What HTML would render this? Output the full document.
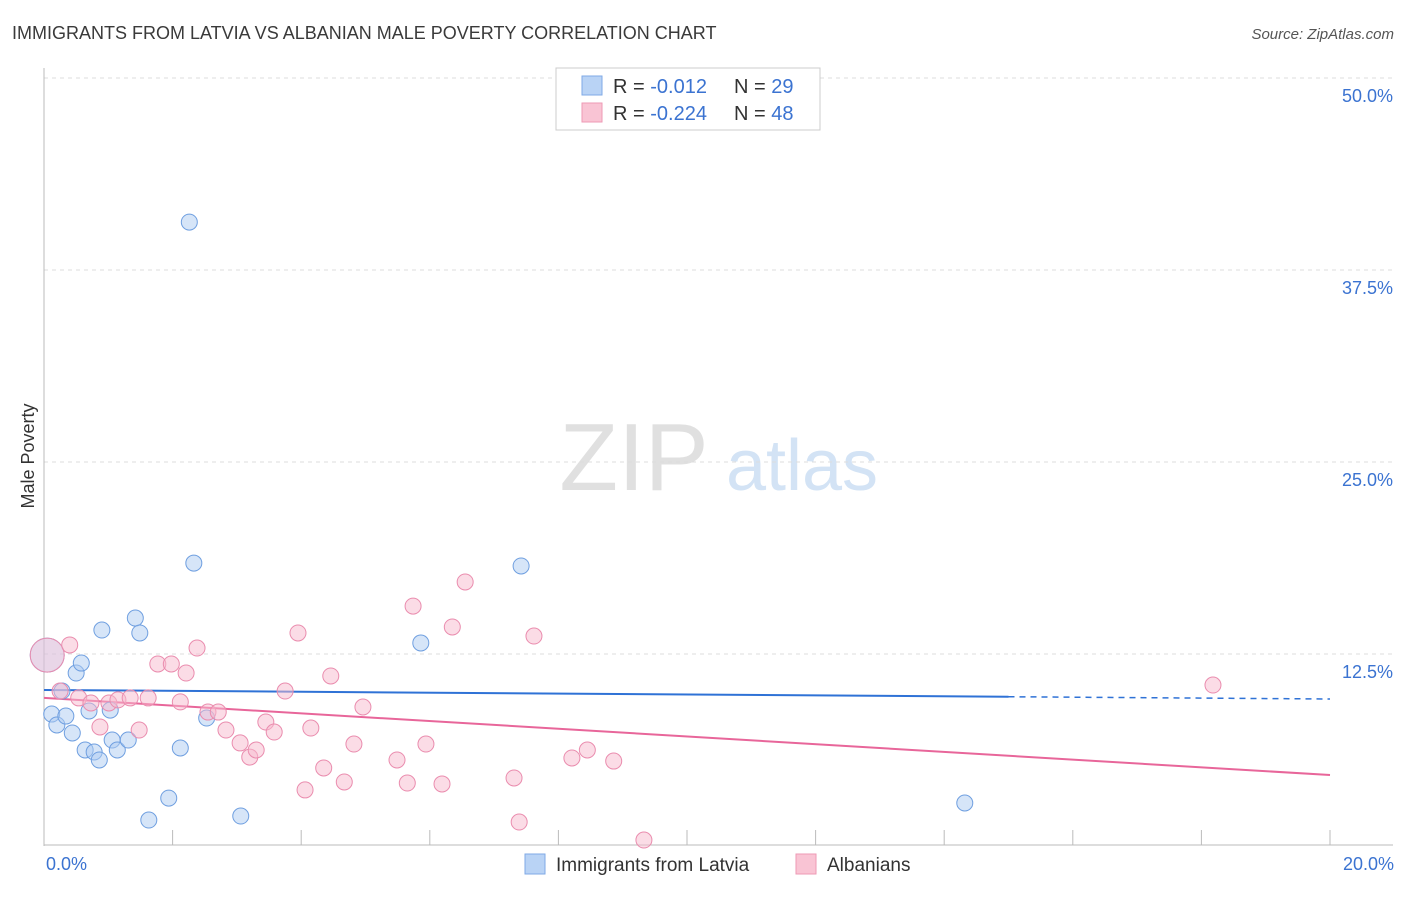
<!DOCTYPE html>
<html><head><meta charset="utf-8"><style>
body{margin:0;background:#fff;font-family:"Liberation Sans",sans-serif;}
svg text{font-family:"Liberation Sans",sans-serif;}
</style></head><body>
<svg id="chart" width="1406" height="892" xmlns="http://www.w3.org/2000/svg">
<text x="12" y="39" font-size="18" fill="#3a3a3a">IMMIGRANTS FROM LATVIA VS ALBANIAN MALE POVERTY CORRELATION CHART</text>
<text x="1394" y="39" font-size="15" fill="#555" font-style="italic" text-anchor="end">Source: ZipAtlas.com</text>
<text x="34" y="456" font-size="18" fill="#333" text-anchor="middle" transform="rotate(-90 34 456)">Male Poverty</text>
<g>
<text x="634" y="490" font-size="96" fill="#e0e0e0" font-family="Liberation Serif" text-anchor="middle">ZIP</text>
<text x="802" y="490" font-size="72" fill="#d3e3f5" text-anchor="middle">atlas</text>
</g>
<g id="grid"></g><g id="axes"></g><g id="lines"></g><g id="pts"></g>
<g>
<rect x="556" y="68" width="264" height="62" fill="#fff" stroke="#ccc"/>
<rect x="582" y="76" width="20" height="19" fill="#b9d3f5" stroke="#7fa9e6"/>
<rect x="582" y="103" width="20" height="19" fill="#f9c4d4" stroke="#ee9ab5"/>
<text x="613" y="93" font-size="20" fill="#333">R = <tspan fill="#3b73d1">-0.012</tspan></text>
<text x="734" y="93" font-size="20" fill="#333">N = <tspan fill="#3b73d1">29</tspan></text>
<text x="613" y="120" font-size="20" fill="#333">R = <tspan fill="#3b73d1">-0.224</tspan></text>
<text x="734" y="120" font-size="20" fill="#333">N = <tspan fill="#3b73d1">48</tspan></text>
</g>
<g>
<rect x="525" y="854" width="20" height="20" fill="#b9d3f5" stroke="#7fa9e6"/>
<text x="556" y="871" font-size="19" fill="#333">Immigrants from Latvia</text>
<rect x="796" y="854" width="20" height="20" fill="#f9c4d4" stroke="#ee9ab5"/>
<text x="827" y="871" font-size="19" fill="#333">Albanians</text>
</g>
</svg>
<script>
const blueX=[0.05,0.12,0.20,0.34,0.28,0.44,0.50,0.58,0.64,0.70,0.78,0.86,0.90,1.03,1.06,1.14,1.31,1.42,1.49,1.63,1.94,2.12,2.26,2.33,2.53,3.06,5.86,7.42,14.32];
const blueY=[12.43,8.59,7.88,8.46,10.09,7.36,11.26,11.91,6.25,8.79,6.12,5.60,14.06,8.85,6.90,6.25,6.90,14.84,13.87,1.69,3.12,6.38,40.62,18.42,8.33,1.95,13.22,18.23,2.80];
const pinkX=[0.05,0.40,0.25,0.54,0.73,0.87,1.01,1.15,1.34,1.48,1.62,1.77,1.98,2.12,2.21,2.38,2.55,2.71,2.83,3.05,3.20,3.30,3.45,3.58,3.75,3.95,4.06,4.15,4.35,4.46,4.67,4.82,4.96,5.49,5.65,5.74,5.94,6.19,6.35,6.55,7.31,7.39,7.62,8.21,8.45,8.86,9.33,18.18];
const pinkY=[12.43,13.09,10.09,9.64,9.31,7.75,9.31,9.51,9.64,7.55,9.64,11.85,11.85,9.38,11.26,12.89,8.72,8.72,7.55,6.71,5.79,6.25,8.07,7.42,10.09,13.87,3.65,7.68,5.08,11.07,4.17,6.64,9.05,5.60,4.10,15.62,6.64,4.04,14.26,17.19,4.43,1.56,13.67,5.73,6.25,5.53,0.39,10.48];
const blueTrend=[10.16,9.57];
const pinkTrend=[9.64,4.62];
const yTicks=[12.5,25,37.5,50];
const yTickLabels=["12.5%","25.0%","37.5%","50.0%"];
const xTickLabels=["0.0%","20.0%"];
const NS="http://www.w3.org/2000/svg";
const X=v=>44+v/20*1286, Y=v=>846-v/12.5*192;
function mk(p,t,a){const e=document.createElementNS(NS,t);for(const k in a)e.setAttribute(k,a[k]);document.getElementById(p).appendChild(e);return e;}
yTicks.forEach((t,i)=>{
 const g=mk('grid','line',{x1:44,x2:1393,y1:Y(t),y2:Y(t),stroke:'#ddd','stroke-dasharray':'4,4'});
 
 
 const l=mk('axes','text',{x:1393,y:Y(t)+24,'font-size':18,fill:'#3b73d1','text-anchor':'end'});
 l.textContent=yTickLabels[i];
 
 
});
const ax=mk('axes','line',{x1:44,x2:44,y1:68,y2:846,stroke:'#bbb'});


const bx=mk('axes','line',{x1:44,x2:1393,y1:845,y2:845,stroke:'#bbb'});


for(let i=0;i<=10;i++){const t=mk('axes','line',{x1:X(i*2),x2:X(i*2),y1:830,y2:845,stroke:'#bbb'});
 
 }
[[0,'start',46],[20,'end',1394]].forEach((d,i)=>{const t=mk('axes','text',{x:d[2],y:870,'font-size':18,fill:'#3b73d1','text-anchor':d[1]});t.textContent=xTickLabels[i];
 
 });
const bY=x=>blueTrend[0]+(blueTrend[1]-blueTrend[0])*x/20;
let l1=mk('lines','line',{x1:X(0),y1:Y(bY(0)),x2:X(15),y2:Y(bY(15)),stroke:'#2f72d6','stroke-width':2});


let l2=mk('lines','line',{x1:X(15),y1:Y(bY(15)),x2:X(20),y2:Y(bY(20)),stroke:'#2f72d6','stroke-width':1.5,'stroke-dasharray':'6,5'});


let l3=mk('lines','line',{x1:X(0),y1:Y(pinkTrend[0]),x2:X(20),y2:Y(pinkTrend[1]),stroke:'#e8669a','stroke-width':2});


function pts(xs,ys,fill,stroke,name){xs.forEach((x,i)=>{const c=mk('pts','circle',{cx:X(x),cy:Y(ys[i]),r:i===0?17:8,fill:fill,'fill-opacity':i===0?0.4:0.5,stroke:stroke,'stroke-width':1});
 
 });}
pts(blueX,blueY,'#aecbf2','#6f9fe0','latvia-point');
pts(pinkX,pinkY,'#f7b9cd','#ea8cae','albanians-point');
</script>
</body></html>
